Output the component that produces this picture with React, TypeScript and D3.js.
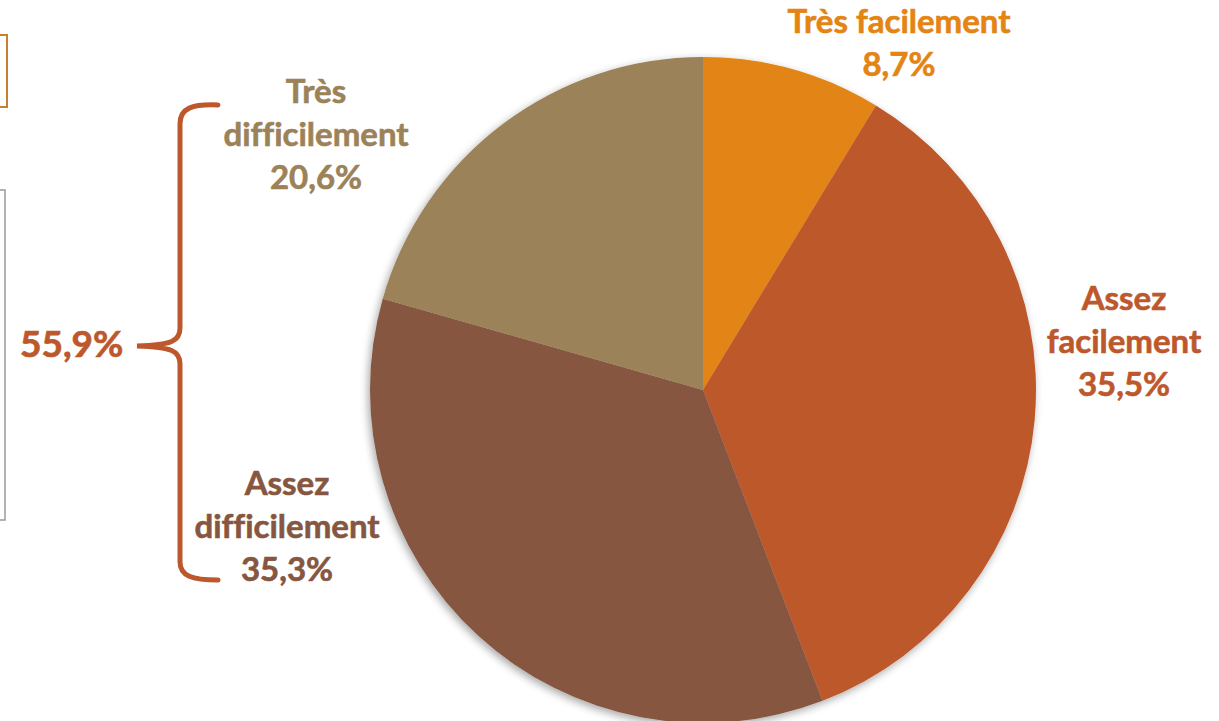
import React, { useEffect, useRef } from 'react';
import * as d3 from 'd3';

// categories / values (clockwise from 12 o'clock)
const categories = ['Très facilement', 'Assez facilement', 'Assez difficilement', 'Très difficilement'];
const values = [8.7, 35.5, 35.3, 20.6];
const sliceColors = ['#E38413', '#BD582C', '#865641', '#9C8258'];
// label line breaks as in the picture
const labelLines = [['Très facilement'], ['Assez', 'facilement'], ['Assez', 'difficilement'], ['Très', 'difficilement']];
const groupTotal = '55,9%';

const W = 1219;
const H = 721;

const fmt = (v: number) => v.toFixed(1).replace('.', ',') + '%';

export default function App() {
  const ref = useRef<SVGSVGElement>(null);

  useEffect(() => {
    const svg = d3.select(ref.current);
    svg.selectAll('*').remove();

    const cx = 703, cy = 390, radius = 333;
    const font = 'Lato, "Open Sans", sans-serif';
    const fs = 33;
    const lineH = 43;

    const defs = svg.append('defs');
    const f = defs.append('filter').attr('id', 'shadow').attr('x', '-10%').attr('y', '-10%').attr('width', '120%').attr('height', '120%');
    f.append('feGaussianBlur').attr('in', 'SourceAlpha').attr('stdDeviation', 4);
    f.append('feOffset').attr('dx', -2).attr('dy', 3).attr('result', 'b');
    f.append('feComponentTransfer').append('feFuncA').attr('type', 'linear').attr('slope', 0.35);
    const m = f.append('feMerge');
    m.append('feMergeNode');
    m.append('feMergeNode').attr('in', 'SourceGraphic');

    // leftover frames at the left edge
    svg.append('rect').attr('x', -20).attr('y', 35).attr('width', 27).attr('height', 72)
      .attr('fill', 'none').attr('stroke', '#C8802E').attr('stroke-width', 2);
    svg.append('rect').attr('x', -20).attr('y', 190).attr('width', 25).attr('height', 330)
      .attr('fill', 'none').attr('stroke', '#9a9a9a').attr('stroke-width', 1.5);

    const pie = d3.pie<number>().sort(null).value(d => d);
    const arcs = pie(values);
    const arc = d3.arc<d3.PieArcDatum<number>>().innerRadius(0).outerRadius(radius);

    const g = svg.append('g').attr('transform', `translate(${cx},${cy})`);
    g.append('g').attr('filter', 'url(#shadow)')
      .selectAll('path')
      .data(arcs)
      .enter()
      .append('path')
      .attr('d', arc)
      .attr('fill', (d, i) => sliceColors[i]);

    // label anchor (centre x, first baseline y), relative to pie centre
    const labelPos: [number, number][] = [[196, -357], [421, -80], [-416, 105], [-387, -287]];

    arcs.forEach((d, i) => {
      const lines = [...labelLines[i], fmt(values[i])];
      const t = g.append('text')
        .attr('text-anchor', 'middle')
        .attr('font-family', font)
        .attr('font-weight', 700)
        .attr('font-size', fs)
        .attr('fill', sliceColors[i])
        .attr('stroke', sliceColors[i])
        .attr('stroke-width', 0.6)
        .style('font-variant-ligatures', 'none');
      lines.forEach((ln, j) => {
        t.append('tspan').attr('x', labelPos[i][0]).attr('y', labelPos[i][1] + j * lineH).text(ln);
      });
    });

    // brace grouping the two "difficilement" slices
    const brace = 'M218,105 C192,104 180,108 180,124 L180,328 C180,341 172,345 137,346 '
      + 'C172,347 180,351 180,364 L180,562 C180,576 192,580 218,580';
    svg.append('path').attr('d', brace).attr('fill', 'none')
      .attr('stroke', '#BD582C').attr('stroke-width', 5).attr('stroke-linecap', 'round');

    svg.append('text')
      .attr('x', 20).attr('y', 357)
      .attr('font-family', font).attr('font-weight', 700).attr('font-size', 37)
      .attr('fill', '#BD582C').attr('stroke', '#BD582C').attr('stroke-width', 0.7)
      .text(groupTotal);
  }, []);

  return (
    <svg ref={ref} width={W} height={H}
      style={{ position: 'fixed', left: 0, top: 0, background: '#fff' }} />
  );
}
